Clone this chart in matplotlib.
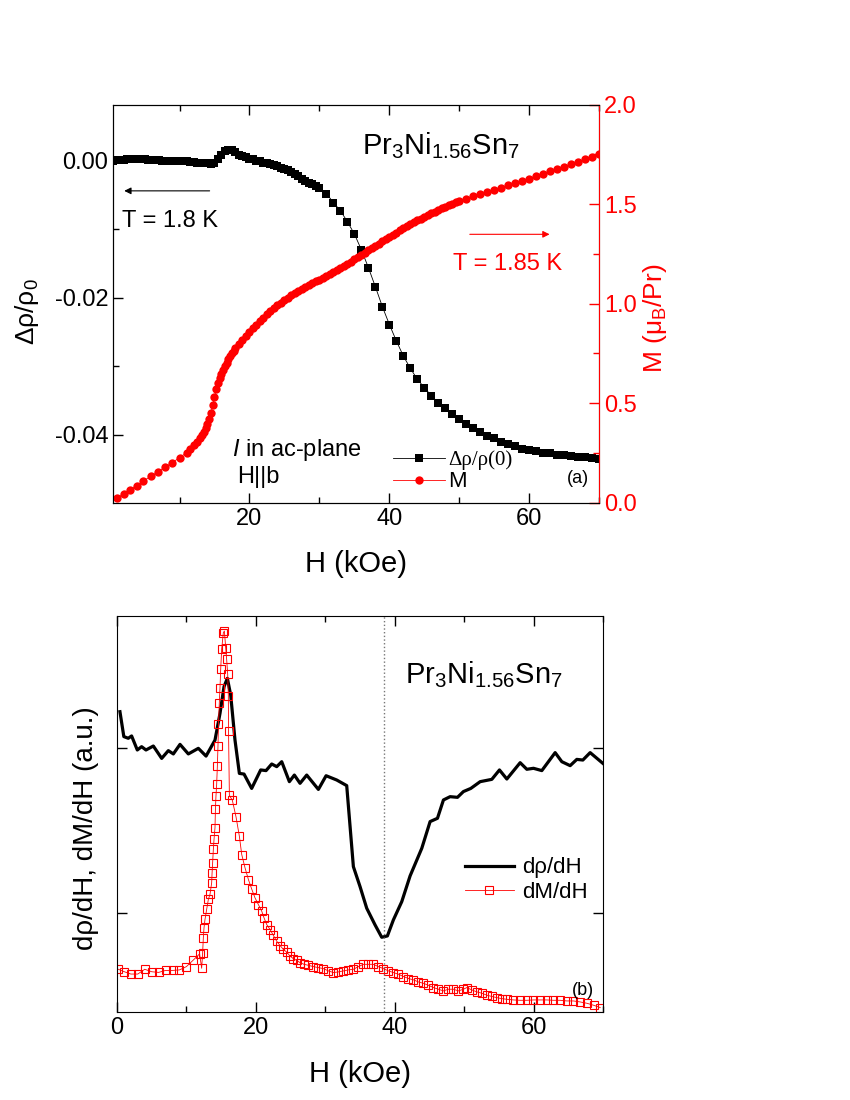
import numpy as np
import matplotlib.pyplot as plt
from matplotlib.ticker import MultipleLocator
from matplotlib.lines import Line2D

plt.rcParams['font.family'] = ['Liberation Sans', 'DejaVu Sans']
plt.rcParams['mathtext.fontset'] = 'custom'
plt.rcParams['mathtext.rm'] = 'Liberation Sans'
plt.rcParams['mathtext.it'] = 'Liberation Sans:italic'

# ---- panel (a): resistance, T = 1.8 K ----
H_rho = [0.5, 1.0, 1.5, 2.0, 2.5, 3.0, 3.5, 4.0, 4.5, 5.0, 5.5, 6.0, 6.5, 7.0, 7.5,
         8.0, 8.5, 9.0, 9.5, 10.0, 10.5, 11.0, 11.5, 12.0, 12.5, 13.0, 13.5, 14.0,
         14.5, 15.0, 15.5, 16.0, 16.5, 17.0, 17.5, 18.0, 18.5, 19.0, 19.5, 20.0,
         20.5, 21.0, 21.5, 22.0, 22.5, 23.0, 23.5, 24.0, 24.5, 25.0, 25.5, 26.0,
         26.5, 27.0, 27.5, 28.0, 28.5, 29.0, 29.5, 30.0,
         31, 32, 33, 34, 35, 36, 37, 38, 39, 40, 41, 42, 43, 44, 45, 46, 47, 48,
         49, 50, 51, 52, 53, 54, 55, 56, 57, 58, 59, 60, 61, 62, 63, 64, 65, 66,
         67, 68, 69, 70]
drho = [0.0000, 0.0001, 0.0001, 0.0001, 0.0002, 0.0002, 0.0002, 0.0002, 0.0002,
        0.0002, 0.0001, 0.0001, 0.0001, 0.0001, 0.0000, 0.0000, 0.0000, -0.0001,
        0.0000, 0.0000, -0.0001, -0.0001, -0.0002, -0.0002, -0.0003, -0.0003,
        -0.0004, -0.0004, -0.0005, -0.0004, 0.0002, 0.0009, 0.0014, 0.0016,
        0.0015, 0.0012, 0.0009, 0.0007, 0.0005, 0.0003, 0.0002, 0.0000, -0.0001,
        -0.0003, -0.0004, -0.0005, -0.0007, -0.0008, -0.0010, -0.0012, -0.0014,
        -0.0017, -0.0020, -0.0023, -0.0026, -0.0029, -0.0032, -0.0034, -0.0037,
        -0.0040,
        -0.0048, -0.0061, -0.0073, -0.0089, -0.0107, -0.0130, -0.0156, -0.0184,
        -0.0213, -0.0239, -0.0263, -0.0285, -0.0303, -0.0319, -0.0331, -0.0343,
        -0.0353, -0.0361, -0.0369, -0.0377, -0.0384, -0.0390, -0.0396, -0.0401,
        -0.0405, -0.0410, -0.0414, -0.0417, -0.0420, -0.0422, -0.0424, -0.0426,
        -0.0427, -0.0429, -0.0430, -0.0431, -0.0432, -0.0433, -0.0434, -0.0435]

# ---- panel (a): magnetization, T = 1.85 K ----
H_M = [1.1, 2.0, 2.9, 3.9, 4.8, 5.9, 6.9, 7.9, 8.9, 10.0, 11.0,
       11.5, 12.0, 12.5, 13.0, 13.25, 13.5, 13.75, 14.0, 14.25, 14.5, 14.75, 15.0,
       15.25, 15.5, 15.75, 16.0, 16.25, 16.5, 16.75, 17.0, 17.25, 17.5, 17.75,
       18.0, 18.5, 19.0, 19.5, 20.0, 20.5, 21.0, 21.5, 22.0, 22.5, 23.0, 23.5,
       24.0, 24.5, 25.0, 25.5, 26.0, 26.5, 27.0, 27.5, 28.0, 28.5, 29.0, 29.5,
       30.0, 30.5, 31.0, 31.5, 32.0, 32.5, 33.0, 33.5, 34.0, 34.5, 35.0, 35.5,
       36.0, 36.5, 37.0, 37.5, 38.0, 38.5, 39.0, 39.5, 40.0, 40.5, 41.0, 41.5,
       42.0, 42.5, 43.0, 43.5, 44.0, 44.5, 45.0, 45.5, 46.0, 46.5, 47.0, 47.5,
       48.0, 48.5, 49.0, 49.5, 50.0,
       51, 52, 53, 54, 55, 56, 57, 58, 59, 60, 61, 62, 63, 64, 65, 66, 67, 68,
       69, 70]
M = [0.024, 0.045, 0.066, 0.086, 0.108, 0.133, 0.155, 0.178, 0.200, 0.226, 0.251,
     0.27, 0.29, 0.305, 0.325, 0.34, 0.355, 0.375, 0.395, 0.42, 0.45, 0.49, 0.53,
     0.57, 0.60, 0.625, 0.645, 0.665, 0.685, 0.70, 0.72, 0.735, 0.75, 0.76,
     0.775, 0.795, 0.815, 0.835, 0.855, 0.875, 0.895, 0.913, 0.93, 0.946, 0.962,
     0.978, 0.992, 1.005, 1.018, 1.03, 1.042, 1.053, 1.064, 1.075, 1.085, 1.095,
     1.104, 1.112, 1.12, 1.13, 1.139, 1.148, 1.158, 1.168, 1.179, 1.19, 1.20,
     1.211, 1.222, 1.233, 1.245, 1.256, 1.267, 1.278, 1.29, 1.301, 1.312, 1.323,
     1.335, 1.346, 1.357, 1.368, 1.378, 1.388, 1.398, 1.408, 1.418, 1.427,
     1.436, 1.445, 1.453, 1.461, 1.469, 1.478, 1.486, 1.494, 1.502, 1.509, 1.516,
     1.527, 1.538, 1.549, 1.56, 1.572, 1.583, 1.594, 1.605, 1.616, 1.628, 1.64,
     1.652, 1.664, 1.676, 1.688, 1.70, 1.713, 1.726, 1.738, 1.75]

# ---- panel (b): derivatives (arb. units) ----
H_drho = [0.43, 0.99, 1.63, 2.11, 2.93, 3.55, 4.18, 5.24, 6.44, 7.40, 8.12, 9.08,
          10.28, 11.72, 12.83, 14.12, 14.84, 15.42, 15.90, 16.38, 17.00, 17.63,
          18.30, 19.40, 20.70, 21.47, 22.29, 23.01, 23.73, 24.83, 25.55, 26.37,
          27.33, 29.01, 30.12, 31.65, 33.09, 34.05, 35.01, 35.97, 37.17, 38.13,
          38.95, 39.81, 41.02, 42.22, 43.90, 45.10, 46.16, 47.02, 47.98, 49.04,
          49.90, 50.96, 52.31, 53.99, 55.09, 56.15, 58.07, 59.03, 59.99, 61.19,
          63.11, 64.07, 65.27, 66.23, 67.10, 68.15, 69.98]
drho_dH = [2.22, 2.069, 2.059, 2.073, 1.988, 2.008, 1.988, 2.012, 1.937, 1.984,
           1.964, 2.022, 1.964, 1.998, 1.951, 2.048, 2.210, 2.372, 2.422, 2.321,
           2.048, 1.846, 1.842, 1.755, 1.867, 1.863, 1.903, 1.887, 1.917, 1.796,
           1.836, 1.786, 1.836, 1.749, 1.832, 1.806, 1.772, 1.281, 1.160, 1.029,
           0.928, 0.853, 0.861, 0.958, 1.069, 1.225, 1.392, 1.554, 1.574, 1.685,
           1.705, 1.701, 1.736, 1.755, 1.796, 1.810, 1.867, 1.812, 1.911, 1.871,
           1.877, 1.863, 1.972, 1.917, 1.893, 1.931, 1.927, 1.972, 1.907]

H_dM = [0.2, 1.0, 2.0, 3.0, 4.0, 5.0, 6.0, 7.0, 8.0, 9.0, 10.0, 11.0, 11.9, 12.2,
        12.34, 12.44, 12.54, 12.68, 12.92, 13.16, 13.40, 13.64, 13.70, 13.78,
        13.88, 13.98, 14.12, 14.18, 14.26, 14.36, 14.46, 14.55, 14.62, 14.74,
        14.84, 14.94, 15.08, 15.32, 15.47, 15.66, 15.80, 15.95, 16.04, 16.07,
        16.19, 16.62, 17.15, 17.63, 17.97, 18.45, 18.93, 19.40, 19.88, 20.37,
        20.85, 21.18, 21.57, 22.05, 22.53, 23.01, 23.49, 23.97, 24.45, 24.93,
        25.41, 25.89, 26.37, 26.94, 27.57, 28.29, 29.01, 29.73, 30.45, 31.17,
        31.89, 32.61, 33.33, 34.05, 34.77, 35.49, 36.21, 36.93, 37.65, 38.37,
        39.10, 39.81, 40.54, 41.26, 41.98, 42.70, 43.42, 44.14, 44.86, 45.58,
        46.30, 47.02, 47.74, 48.46, 49.18, 49.90, 50.38, 51.10, 51.82, 52.54,
        53.27, 53.99, 54.71, 55.43, 56.15, 57.11, 58.07, 59.03, 59.99, 60.95,
        61.91, 62.87, 63.83, 64.79, 65.75, 66.71, 67.68, 68.64, 69.60]
dM_dH = [0.659, 0.645, 0.630, 0.630, 0.659, 0.644, 0.640, 0.652, 0.652, 0.655,
         0.675, 0.715, 0.752, 0.665, 0.76, 0.85, 0.911, 0.961, 1.022, 1.082,
         1.113, 1.183, 1.244, 1.305, 1.385, 1.446, 1.517, 1.628, 1.709, 1.780,
         1.891, 2.012, 2.143, 2.275, 2.366, 2.477, 2.598, 2.699, 2.709, 2.608,
         2.537, 2.446, 2.315, 2.103, 1.713, 1.683, 1.582, 1.465, 1.354, 1.273,
         1.203, 1.146, 1.092, 1.051, 1.011, 0.971, 0.930, 0.900, 0.864, 0.829,
         0.803, 0.779, 0.763, 0.739, 0.723, 0.713, 0.699, 0.689, 0.683, 0.675,
         0.669, 0.663, 0.649, 0.639, 0.643, 0.649, 0.655, 0.659, 0.675, 0.689,
         0.689, 0.689, 0.675, 0.663, 0.649, 0.639, 0.629, 0.615, 0.603, 0.595,
         0.582, 0.574, 0.562, 0.548, 0.538, 0.528, 0.538, 0.538, 0.528, 0.538,
         0.548, 0.534, 0.522, 0.514, 0.502, 0.494, 0.487, 0.481, 0.477, 0.473,
         0.471, 0.471, 0.473, 0.473, 0.473, 0.471, 0.471, 0.467, 0.467, 0.461,
         0.453, 0.441, 0.427]

H_transition = 38.4

red = '#ff0000'
fig = plt.figure(figsize=(8.5, 11), dpi=100)

# ================= panel (a) =================
ax1 = fig.add_axes([0.133, 0.543, 0.572, 0.362])
ax1.plot(H_rho, drho, color='black', lw=0.6, marker='s', ms=5.5, mew=0)
ax1.set_xlim(0.5, 70)
ax1.set_ylim(-0.0499, 0.0082)
ax1.xaxis.set_major_locator(MultipleLocator(20))
ax1.xaxis.set_minor_locator(MultipleLocator(10))
ax1.yaxis.set_major_locator(MultipleLocator(0.02))
ax1.yaxis.set_minor_locator(MultipleLocator(0.01))
ax1.yaxis.set_major_formatter(plt.FuncFormatter(lambda v, p: f'{v:.2f}'))
ax1.tick_params(which='both', direction='in', top=True, right=False, labelsize=17)
ax1.tick_params(which='major', length=7, width=1)
ax1.tick_params(which='minor', length=4, width=1)
ax1.set_xlabel('H (kOe)', fontsize=21, labelpad=15)

ax2 = ax1.twinx()
ax2.plot(H_M, M, color=red, lw=0.6, marker='o', ms=6, mew=0)
ax2.set_ylim(0, 2.0)
ax2.yaxis.set_major_locator(MultipleLocator(0.5))
ax2.yaxis.set_minor_locator(MultipleLocator(0.25))
ax2.yaxis.set_major_formatter(plt.FuncFormatter(lambda v, p: f'{v:.1f}'))
ax2.tick_params(which='both', direction='in', colors=red, labelsize=17)
ax2.tick_params(which='major', length=7, width=1)
ax2.tick_params(which='minor', length=4, width=1)
ax2.spines['right'].set_color(red)

fig.text(27 / 850, 1 - 312 / 1100, 'Δρ/ρ$_0$', rotation=90,
         ha='center', va='center', fontsize=19)
fig.text(655 / 850, 1 - 318 / 1100, 'M (μ$_\\mathrm{B}$/Pr)', rotation=90,
         ha='center', va='center', fontsize=19, color=red)

ax1.text(0.512, 0.874, r'Pr$_3$Ni$_{1.56}$Sn$_7$', transform=ax1.transAxes,
         fontsize=21, ha='left', va='baseline')
ax1.annotate('', xy=(1.7, -0.0044), xytext=(14.7, -0.0044),
             arrowprops=dict(arrowstyle='-|>', color='black', lw=0.8,
                             mutation_scale=10))
ax1.text(0.0185, 0.693, 'T = 1.8 K', transform=ax1.transAxes, fontsize=17,
         ha='left', va='baseline')
ax2.annotate('', xy=(63.3, 1.348), xytext=(51.1, 1.348),
             arrowprops=dict(arrowstyle='-|>', color=red, lw=0.8,
                             mutation_scale=10))
ax1.text(0.70, 0.585, 'T = 1.85 K', transform=ax1.transAxes, fontsize=17,
         ha='left', va='baseline', color=red)
ax1.text(0.245, 0.118, r'$\mathit{I}$ in ac-plane', transform=ax1.transAxes,
         fontsize=17, ha='left', va='baseline')
ax1.text(0.255, 0.050, 'H||b', transform=ax1.transAxes, fontsize=17,
         ha='left', va='baseline')
ax1.text(0.934, 0.050, '(a)', transform=ax1.transAxes, fontsize=13,
         ha='left', va='baseline')

h_a = [Line2D([], [], color='black', lw=0.6, marker='s', ms=5.5, mew=0),
       Line2D([], [], color=red, lw=0.6, marker='o', ms=6, mew=0)]
leg_a = ax2.legend(h_a, ['Δρ/ρ(0)', 'M'], loc='center left',
                   bbox_to_anchor=(393 / 850, 1 - 471 / 1100),
                   bbox_transform=fig.transFigure, frameon=False, fontsize=15,
                   handlelength=2.5, handletextpad=0.15, labelspacing=0.05,
                   borderpad=0, borderaxespad=0)
leg_a.get_texts()[0].set_family('Liberation Serif')
leg_a.get_texts()[1].set_fontsize(16)

# ================= panel (b) =================
ax3 = fig.add_axes([0.1376, 0.08, 0.5718, 0.36])
ax3.plot(H_drho, drho_dH, color='black', lw=2.3, label='dρ/dH')
ax3.plot(H_dM, dM_dH, color=red, lw=0.6, marker='s', ms=6, mfc='none',
         mec=red, mew=0.8, label='dM/dH')
ax3.axvline(H_transition, color='#777777', lw=1, ls=':')
ax3.set_xlim(0, 70)
ax3.set_ylim(0.4, 2.8)
ax3.xaxis.set_major_locator(MultipleLocator(20))
ax3.xaxis.set_minor_locator(MultipleLocator(10))
ax3.yaxis.set_major_locator(MultipleLocator(1))
ax3.yaxis.set_minor_locator(MultipleLocator(1))
ax3.tick_params(which='both', direction='in', top=True, right=True,
                labelsize=17, labelleft=False)
ax3.tick_params(which='major', length=7, width=1)
ax3.tick_params(which='minor', length=4, width=1)
ax3.set_xlabel('H (kOe)', fontsize=21, labelpad=15)
fig.text(86 / 850, 1 - 828 / 1100, 'dρ/dH, dM/dH (a.u.)', rotation=90,
         ha='center', va='center', fontsize=20)

ax3.text(0.593, 0.831, r'Pr$_3$Ni$_{1.56}$Sn$_7$', transform=ax3.transAxes,
         fontsize=21, ha='left', va='baseline')
ax3.text(0.936, 0.043, '(b)', transform=ax3.transAxes, fontsize=13,
         ha='left', va='baseline')
ax3.legend(loc='center left', bbox_to_anchor=(465 / 850, 1 - 880 / 1100),
           bbox_transform=fig.transFigure, frameon=False, fontsize=16,
           handlelength=2.2, handletextpad=0.35, labelspacing=0.15,
           borderpad=0, borderaxespad=0)

fig.savefig('out.png', dpi=100)
